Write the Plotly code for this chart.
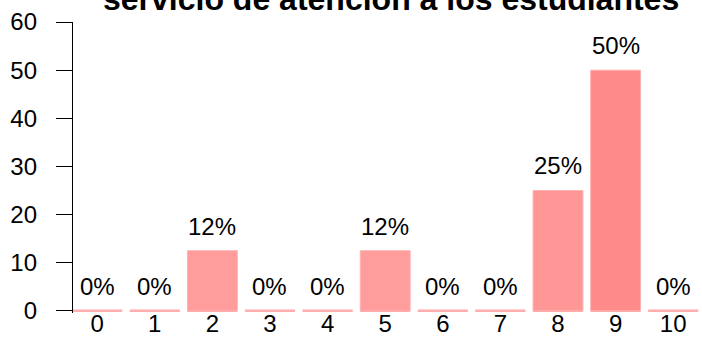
import plotly.graph_objects as go

# Rating scale 0-10 and share of responses (%) for each score
scores = [0, 1, 2, 3, 4, 5, 6, 7, 8, 9, 10]
shares = [0, 0, 12.5, 0, 0, 12.5, 0, 0, 25, 50, 0]
title_text = "servicio de atención a los estudiantes"
y_ticks = [0, 10, 20, 30, 40, 50, 60]

FONT = "Liberation Sans, Arial, Helvetica, sans-serif"
BAR_WIDTH = 0.866

fig = go.Figure()
fig.add_trace(go.Bar(
    x=scores,
    y=shares,
    width=BAR_WIDTH,
    marker=dict(
        color=shares,
        cmin=0,
        cmax=50,
        colorscale=[[0, "#FFA3A3"], [1, "#FF8A8A"]],
        line=dict(color="#FFB2B2", width=1),
    ),
    hoverinfo="x+y",
))

# thin baseline stroke under every score so empty categories stay visible
for s in scores:
    fig.add_shape(
        type="line", xref="x", yref="y",
        x0=s - BAR_WIDTH / 2, x1=s + BAR_WIDTH / 2, y0=0, y1=0,
        line=dict(color="#FFA8A8", width=2.5),
        layer="below",
    )

# percentage labels above the bars
for s, v in zip(scores, shares):
    fig.add_annotation(
        x=s, y=v, xref="x", yref="y",
        text=f"{v:.0f}%",
        showarrow=False, yanchor="bottom", yshift=9,
        font=dict(family=FONT, size=24, color="black"),
    )

fig.add_annotation(
    x=0.505, y=1, xref="paper", yref="paper",
    text=f"<b>{title_text}</b>",
    showarrow=False, yanchor="bottom", yshift=3,
    font=dict(family=FONT, size=32, color="black"),
)

fig.update_layout(
    width=702, height=337,
    margin=dict(l=73, r=0, t=22, b=24),
    plot_bgcolor="white",
    paper_bgcolor="white",
    showlegend=False,
    font=dict(family=FONT, size=24, color="black"),
    xaxis=dict(
        range=[-0.42, 10.5],
        tickvals=scores,
        ticktext=[str(s) for s in scores],
        showgrid=False, zeroline=False, showline=False,
        ticks="",
        ticklabelstandoff=-6,
        tickfont=dict(size=24),
        automargin=False,
    ),
    yaxis=dict(
        range=[-0.45, 60],
        tickvals=y_ticks,
        showgrid=False, zeroline=False,
        showline=True, linecolor="black", linewidth=1.3,
        ticks="outside", ticklen=16, tickwidth=1.3, tickcolor="black",
        ticklabelstandoff=14,
        tickfont=dict(size=24),
        automargin=False,
    ),
)

fig.write_html("out.html")
